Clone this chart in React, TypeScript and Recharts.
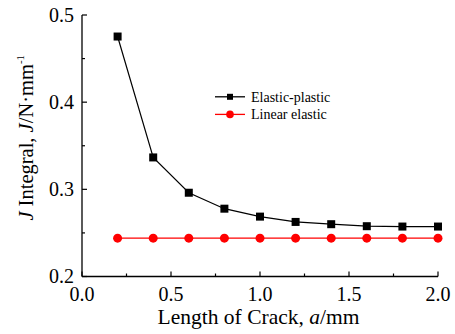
import React from 'react';
import { LineChart, Line, XAxis, YAxis, Legend, Label } from 'recharts';

const crackLength = [0.2, 0.4, 0.6, 0.8, 1.0, 1.2, 1.4, 1.6, 1.8, 2.0];
const elasticPlastic = [0.4753, 0.3366, 0.2961, 0.2778, 0.2687, 0.2626, 0.26, 0.2577, 0.2573, 0.2573];
const linearElastic = [0.244, 0.244, 0.244, 0.244, 0.244, 0.244, 0.244, 0.244, 0.244, 0.244];
const xTicks = [0, 0.25, 0.5, 0.75, 1.0, 1.25, 1.5, 1.75, 2.0];
const yTicks = [0.2, 0.25, 0.3, 0.35, 0.4, 0.45, 0.5];
const seriesNames = ['Elastic-plastic', 'Linear elastic'];

const data = crackLength.map((a, i) => ({ a, ep: elasticPlastic[i], le: linearElastic[i] }));

const FONT = 'Liberation Serif';

const isMajor = (v: number, step: number) => Math.abs(v / step - Math.round(v / step)) < 1e-6;

const BottomTick = (props: any) => {
  const { x, y, payload } = props;
  const major = isMajor(payload.value, 0.5);
  return (
    <g>
      <line x1={x} x2={x} y1={y} y2={y - (major ? 5 : 3)} stroke="#000" strokeWidth={1.2} />
      {major && (
        <text x={x} y={y + 24.5} textAnchor="middle" fontFamily={FONT} fontSize={20} fill="#000">
          {payload.value.toFixed(1)}
        </text>
      )}
    </g>
  );
};

const TopTick = (props: any) => {
  const { x, y, payload } = props;
  const major = isMajor(payload.value, 0.5);
  return <line x1={x} x2={x} y1={y} y2={y + (major ? 5 : 3)} stroke="#000" strokeWidth={1.2} />;
};

const LeftTick = (props: any) => {
  const { x, y, payload } = props;
  const major = isMajor(payload.value, 0.1);
  return (
    <g>
      <line x1={x} x2={x + (major ? 5 : 3)} y1={y} y2={y} stroke="#000" strokeWidth={1.2} />
      {major && (
        <text x={x - 8} y={y + 6.5} textAnchor="end" fontFamily={FONT} fontSize={20} fill="#000">
          {payload.value.toFixed(1)}
        </text>
      )}
    </g>
  );
};

const RightTick = (props: any) => {
  const { x, y, payload } = props;
  const major = isMajor(payload.value, 0.1);
  return <line x1={x} x2={x - (major ? 5 : 3)} y1={y} y2={y} stroke="#000" strokeWidth={1.2} />;
};

const YTitle = (props: any) => {
  const vb = props.viewBox || { x: 0, y: 15, height: 261 };
  const cx = 33;
  const cy = vb.y + vb.height / 2 - 8;
  return (
    <text
      x={cx}
      y={cy}
      transform={`rotate(-90, ${cx}, ${cy})`}
      textAnchor="middle"
      fontFamily={FONT}
      fontSize={20.5}
      fill="#000"
    >
      <tspan fontStyle="italic">J</tspan>
      <tspan> Integral, </tspan>
      <tspan fontStyle="italic">J</tspan>
      <tspan>/N·mm</tspan>
      <tspan fontSize={11} dy={-9}>-1</tspan>
    </text>
  );
};

const XTitle = (props: any) => {
  const vb = props.viewBox || { x: 82, y: 276, width: 356 };
  const cx = vb.x + vb.width / 2 - 1.5;
  return (
    <text x={cx} y={324} textAnchor="middle" fontFamily={FONT} fontSize={21.5} fill="#000">
      <tspan>Length of Crack, </tspan>
      <tspan fontStyle="italic">a</tspan>
      <tspan>/mm</tspan>
    </text>
  );
};

const SquareDot = (p: any) => (
  <rect key={`sq-${p.index}`} x={p.cx - 4} y={p.cy - 4} width={8} height={8} fill="#000" />
);

const CircleDot = (p: any) => (
  <circle key={`ci-${p.index}`} cx={p.cx} cy={p.cy} r={4.5} fill="#ff0000" />
);

const LegendContent = () => (
  <svg width={180} height={36} style={{ display: 'block' }}>
    {seriesNames.map((name, i) => {
      const cy = 8.8 + i * 17.6;
      const color = i === 0 ? '#000' : '#ff0000';
      return (
        <g key={name}>
          <line x1={2} x2={32} y1={cy} y2={cy} stroke={color} strokeWidth={1.3} />
          {i === 0 ? (
            <rect x={14} y={cy - 3} width={6} height={6} fill="#000" />
          ) : (
            <circle cx={17} cy={cy} r={3.8} fill="#ff0000" />
          )}
          <text x={38} y={cy + 5} fontFamily={FONT} fontSize={14} fill="#000">
            {name}
          </text>
        </g>
      );
    })}
  </svg>
);

export default function App() {
  return (
    <div style={{ position: 'absolute', left: 0, top: 0, width: 455, height: 334, background: '#fff' }}>
      <LineChart width={455} height={334} data={data} margin={{ top: 15, right: 17, bottom: 0, left: 0 }}>
        <XAxis
          dataKey="a"
          type="number"
          domain={[0, 2]}
          ticks={xTicks}
          interval={0}
          height={57.5}
          tickSize={0}
          tickMargin={0}
          tick={<BottomTick />}
          axisLine={{ stroke: '#000', strokeWidth: 1.3 }}
          tickLine={false}
        >
          <Label content={<XTitle />} />
        </XAxis>
        <XAxis
          xAxisId="top"
          orientation="top"
          dataKey="a"
          type="number"
          domain={[0, 2]}
          ticks={xTicks}
          interval={0}
          height={0}
          tickSize={0}
          tickMargin={0}
          tick={<TopTick />}
          axisLine={{ stroke: '#000', strokeWidth: 1.3 }}
          tickLine={false}
        />
        <YAxis
          type="number"
          domain={[0.2, 0.5]}
          ticks={yTicks}
          interval={0}
          width={82}
          tickSize={0}
          tickMargin={0}
          tick={<LeftTick />}
          axisLine={{ stroke: '#000', strokeWidth: 1.3 }}
          tickLine={false}
        >
          <Label content={<YTitle />} />
        </YAxis>
        <YAxis
          yAxisId="right"
          orientation="right"
          type="number"
          domain={[0.2, 0.5]}
          ticks={yTicks}
          interval={0}
          width={0}
          tickSize={0}
          tickMargin={0}
          tick={<RightTick />}
          axisLine={{ stroke: '#000', strokeWidth: 1.3 }}
          tickLine={false}
        />
        <Legend
          layout="horizontal"
          verticalAlign="middle"
          align="center"
          content={<LegendContent />}
          wrapperStyle={{ position: 'absolute', left: 213, top: 88, width: 180, height: 36 }}
        />
        <Line
          dataKey="ep"
          name={seriesNames[0]}
          type="linear"
          stroke="#000"
          strokeWidth={1.2}
          dot={SquareDot}
          activeDot={false}
          isAnimationActive={false}
        />
        <Line
          dataKey="le"
          name={seriesNames[1]}
          type="linear"
          stroke="#ff0000"
          strokeWidth={1.3}
          dot={CircleDot}
          activeDot={false}
          isAnimationActive={false}
        />
      </LineChart>
    </div>
  );
}
